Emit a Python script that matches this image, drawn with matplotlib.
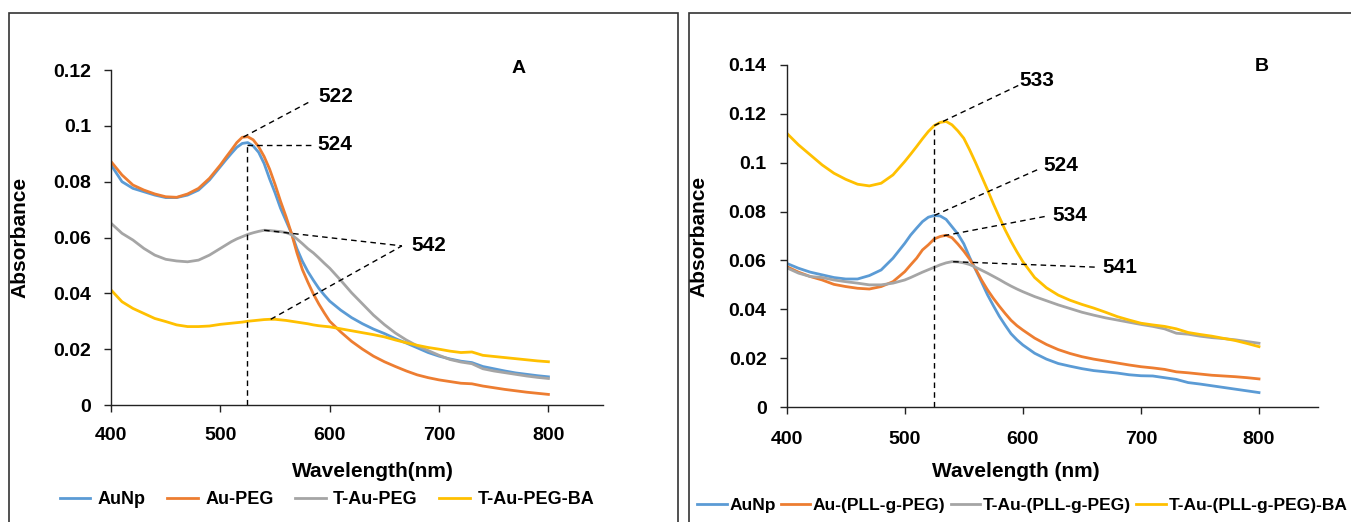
import numpy as np
import matplotlib
matplotlib.use("Agg")
import matplotlib.pyplot as plt
from matplotlib.patches import Rectangle

plt.rcParams['font.family'] = ['Liberation Sans', 'DejaVu Sans']
plt.rcParams['font.weight'] = 'bold'

# wavelength grid (nm): 10 nm steps, 5 nm through the plasmon peak region
wl = ([400, 410, 420, 430, 440, 450, 460, 470, 480, 490]
      + [500, 505, 510, 515, 520, 525, 530, 535, 540, 545,
         550, 555, 560, 565, 570, 575, 580, 585, 590, 595]
      + [600, 610, 620, 630, 640, 650, 660, 670, 680, 690,
         700, 710, 720, 730, 740, 750, 760, 770, 780, 790, 800])

# panel A
a_aunp = [0.0860, 0.0800, 0.0776, 0.0764, 0.0752, 0.0743, 0.0743, 0.0752, 0.0770, 0.0806,
          0.0854, 0.0878, 0.0901, 0.0923, 0.0937, 0.0940, 0.0928, 0.0905, 0.0865, 0.0810,
          0.0760, 0.0705, 0.0660, 0.0615, 0.0560, 0.0515, 0.0478, 0.0447, 0.0418, 0.0394,
          0.0372, 0.0340, 0.0313, 0.0291, 0.0272, 0.0256, 0.0238, 0.0222, 0.0205, 0.0188,
          0.0175, 0.0165, 0.0157, 0.0152, 0.0138, 0.0130, 0.0122, 0.0115, 0.0110, 0.0105, 0.0101]
a_aupeg = [0.0872, 0.0824, 0.0788, 0.0770, 0.0756, 0.0746, 0.0744, 0.0756, 0.0776, 0.0812,
           0.0860, 0.0887, 0.0913, 0.0940, 0.0959, 0.0961, 0.0950, 0.0925, 0.0890, 0.0845,
           0.0790, 0.0730, 0.0675, 0.0615, 0.0545, 0.0485, 0.0440, 0.0398, 0.0362, 0.0330,
           0.0300, 0.0262, 0.0228, 0.0200, 0.0175, 0.0155, 0.0138, 0.0122, 0.0108, 0.0098,
           0.0090, 0.0084, 0.0078, 0.0076, 0.0068, 0.0062, 0.0056, 0.0051, 0.0046, 0.0042, 0.0038]
a_taupeg = [0.0651, 0.0615, 0.0591, 0.0561, 0.0537, 0.0522, 0.0516, 0.0513, 0.0519, 0.0537,
            0.0561, 0.0573, 0.0585, 0.0595, 0.0603, 0.0611, 0.0617, 0.0622, 0.0626, 0.0625,
            0.0623, 0.0621, 0.0618, 0.0610, 0.0595, 0.0578, 0.0560, 0.0545, 0.0527, 0.0508,
            0.0490, 0.0447, 0.0402, 0.0362, 0.0322, 0.0288, 0.0258, 0.0233, 0.0212, 0.0195,
            0.0178, 0.0163, 0.0154, 0.0148, 0.0130, 0.0122, 0.0116, 0.0110, 0.0104, 0.0099, 0.0095]
a_taupegba = [0.0412, 0.0370, 0.0346, 0.0328, 0.0310, 0.0299, 0.0287, 0.0281, 0.0281, 0.0283,
              0.0289, 0.0291, 0.0293, 0.0295, 0.0297, 0.0300, 0.0302, 0.0304, 0.0306, 0.0307,
              0.0307, 0.0305, 0.0303, 0.0300, 0.0297, 0.0294, 0.0291, 0.0287, 0.0284, 0.0282,
              0.0280, 0.0273, 0.0266, 0.0259, 0.0252, 0.0244, 0.0233, 0.0223, 0.0214, 0.0206,
              0.0200, 0.0193, 0.0188, 0.0190, 0.0178, 0.0174, 0.0170, 0.0166, 0.0162, 0.0158, 0.0155]

# panel B
b_aunp = [0.0588, 0.0568, 0.0552, 0.0541, 0.0530, 0.0524, 0.0524, 0.0538, 0.0561, 0.0609,
          0.0670, 0.0704, 0.0732, 0.0759, 0.0777, 0.0784, 0.0782, 0.0768, 0.0738, 0.0708,
          0.0668, 0.0612, 0.0562, 0.0512, 0.0460, 0.0415, 0.0372, 0.0335, 0.0300, 0.0275,
          0.0254, 0.0220, 0.0196, 0.0178, 0.0167, 0.0157, 0.0149, 0.0144, 0.0139, 0.0132,
          0.0128, 0.0127, 0.0120, 0.0113, 0.0100, 0.0094, 0.0087, 0.0080, 0.0073, 0.0066, 0.0059]
b_aupll = [0.0575, 0.0552, 0.0534, 0.0520, 0.0502, 0.0493, 0.0486, 0.0483, 0.0493, 0.0513,
           0.0554, 0.0582, 0.0609, 0.0643, 0.0664, 0.0688, 0.0698, 0.0703, 0.0693, 0.0667,
           0.0638, 0.0605, 0.0565, 0.0520, 0.0480, 0.0445, 0.0413, 0.0383, 0.0355, 0.0333,
           0.0315, 0.0282, 0.0256, 0.0235, 0.0219, 0.0206, 0.0196, 0.0188, 0.0180, 0.0172,
           0.0165, 0.0160, 0.0154, 0.0144, 0.0140, 0.0135, 0.0130, 0.0127, 0.0124, 0.0120, 0.0115]
b_taupll = [0.0570, 0.0548, 0.0534, 0.0530, 0.0520, 0.0513, 0.0507, 0.0500, 0.0500, 0.0507,
            0.0520, 0.0530, 0.0541, 0.0552, 0.0562, 0.0572, 0.0582, 0.0590, 0.0595, 0.0594,
            0.0590, 0.0583, 0.0572, 0.0560, 0.0548, 0.0535, 0.0522, 0.0508, 0.0495, 0.0483,
            0.0472, 0.0452, 0.0435, 0.0418, 0.0403, 0.0388, 0.0376, 0.0365, 0.0356, 0.0347,
            0.0338, 0.0330, 0.0320, 0.0302, 0.0298, 0.0290, 0.0284, 0.0280, 0.0275, 0.0268, 0.0261]
b_taupllba = [0.1121, 0.1073, 0.1032, 0.0991, 0.0957, 0.0932, 0.0912, 0.0905, 0.0916, 0.0950,
              0.1005, 0.1035, 0.1066, 0.1098, 0.1128, 0.1152, 0.1165, 0.1169, 0.1155, 0.1130,
              0.1100, 0.1052, 0.1000, 0.0945, 0.0890, 0.0832, 0.0778, 0.0725, 0.0678, 0.0635,
              0.0595, 0.0530, 0.0488, 0.0458, 0.0437, 0.0420, 0.0405, 0.0388, 0.0370, 0.0356,
              0.0343, 0.0336, 0.0330, 0.0320, 0.0305, 0.0297, 0.0290, 0.0281, 0.0272, 0.0260, 0.0247]

labels_a = ['AuNp', 'Au-PEG', 'T-Au-PEG', 'T-Au-PEG-BA']
labels_b = ['AuNp', 'Au-(PLL-g-PEG)', 'T-Au-(PLL-g-PEG)', 'T-Au-(PLL-g-PEG)-BA']
colors = ['#5B9BD5', '#ED7D31', '#A5A5A5', '#FFC000']

fig = plt.figure(figsize=(13.51, 5.22), dpi=100)

# panel frames
fig.patches.append(Rectangle((0.0067, -0.05), 0.4952, 1.025, transform=fig.transFigure,
                             fill=False, edgecolor='#333333', lw=1.2))
fig.patches.append(Rectangle((0.510, -0.05), 0.6, 1.025, transform=fig.transFigure,
                             fill=False, edgecolor='#333333', lw=1.2))

axA = fig.add_axes([0.0822, 0.2241, 0.3642, 0.6418])
axB = fig.add_axes([0.5823, 0.2203, 0.3933, 0.6552])


def style(ax, ymax, ystep, xpad):
    ax.set_xlim(400, 850)
    ax.set_ylim(0, ymax)
    ax.set_xticks([400, 500, 600, 700, 800])
    yt = np.round(np.arange(0, ymax + 1e-9, ystep), 2)
    ax.set_yticks(yt)
    ax.set_yticklabels(['0' if v == 0 else ('%g' % v) for v in yt])
    for s in ['top', 'right']:
        ax.spines[s].set_visible(False)
    for s in ['left', 'bottom']:
        ax.spines[s].set_color('#222222')
        ax.spines[s].set_linewidth(1.0)
    ax.tick_params(direction='out', length=5, width=1, labelsize=14, colors='#222222',
                   labelcolor='black')
    ax.tick_params(axis='y', pad=9.5)
    ax.tick_params(axis='x', pad=xpad)
    ax.set_ylabel('Absorbance', fontsize=15, fontweight='bold')


def dash(ax, x0, y0, x1, y1):
    ax.plot([x0, x1], [y0, y1], ls='--', color='black', lw=1.0, dashes=(4, 3))


# ---- panel A ----
for y, lab, c in zip([a_aunp, a_aupeg, a_taupeg, a_taupegba], labels_a, colors):
    axA.plot(wl, y, color=c, lw=2.0, label=lab)
style(axA, 0.12, 0.02, 11)
axA.set_xlabel('Wavelength(nm)', fontsize=15, fontweight='bold')
axA.yaxis.set_label_coords(-0.165, 0.5)
axA.xaxis.set_label_coords(0.533, -0.17)

pk_or = np.interp(522, wl, a_aupeg)
pk_bl = np.interp(524, wl, a_aunp)
dash(axA, 521, pk_or, 582, 0.1087)
axA.text(590, 0.1104, '522', fontsize=15, fontweight='bold', va='center')
dash(axA, 524, 0, 524, pk_bl)
dash(axA, 524, pk_bl - 0.0008, 585, pk_bl - 0.0008)
axA.text(589, pk_bl - 0.0008, '524', fontsize=15, fontweight='bold', va='center')
dash(axA, 540, np.interp(540, wl, a_taupeg), 666, 0.0570)
dash(axA, 546, np.interp(546, wl, a_taupegba), 666, 0.0570)
axA.text(675, 0.0571, '542', fontsize=15, fontweight='bold', va='center')
axA.text(773, 0.1206, 'A', fontsize=14, fontweight='bold', ha='center', va='center')

fig.legend(*axA.get_legend_handles_labels(), loc='center', bbox_to_anchor=(0.242, 0.043),
           ncol=4, frameon=False, fontsize=13, handlelength=1.7, handletextpad=0.4,
           columnspacing=1.2)

# ---- panel B ----
for y, lab, c in zip([b_aunp, b_aupll, b_taupll, b_taupllba], labels_b, colors):
    axB.plot(wl, y, color=c, lw=2.0, label=lab)
style(axB, 0.14, 0.02, 12.5)
axB.set_xlabel('Wavelength (nm)', fontsize=15, fontweight='bold')
axB.yaxis.set_label_coords(-0.148, 0.5)
axB.xaxis.set_label_coords(0.432, -0.161)

dash(axB, 524.5, 0, 524.5, np.interp(524.5, wl, b_taupllba))
dash(axB, 525, np.interp(525, wl, b_taupllba), 597, 0.1318)
axB.text(597, 0.1336, '533', fontsize=15, fontweight='bold', va='center')
dash(axB, 525, np.interp(525, wl, b_aunp), 615, 0.0977)
axB.text(617, 0.0990, '524', fontsize=15, fontweight='bold', va='center')
dash(axB, 533, np.interp(533, wl, b_aupll), 621, 0.0782)
axB.text(625, 0.0783, '534', fontsize=15, fontweight='bold', va='center')
dash(axB, 541, np.interp(541, wl, b_taupll), 664, 0.0572)
axB.text(667, 0.0572, '541', fontsize=15, fontweight='bold', va='center')
axB.text(802, 0.1393, 'B', fontsize=14, fontweight='bold', ha='center', va='center')

fig.legend(*axB.get_legend_handles_labels(), loc='center left', bbox_to_anchor=(0.507, 0.031),
           ncol=4, frameon=False, fontsize=12.5, handlelength=1.7, handletextpad=0.15,
           columnspacing=0.3, borderpad=0.2)

fig.savefig('out.png', dpi=100)
